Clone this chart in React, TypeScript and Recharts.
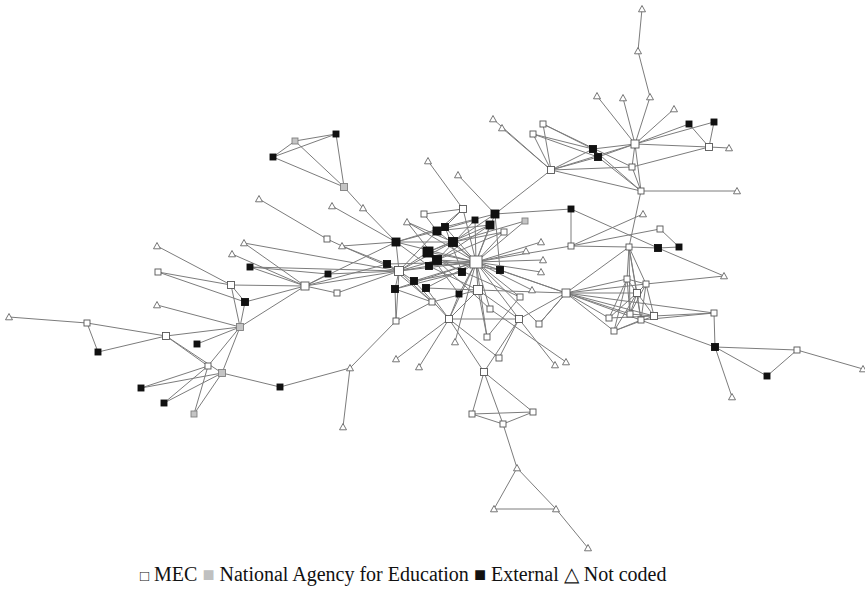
import React from "react";
import { ScatterChart, Scatter, XAxis, YAxis, ReferenceLine } from "recharts";

type Node = [string, number, number, number];

const mecNodes: Node[] = [
  ["M1", 476, 262, 12], ["M2", 399, 271, 9], ["M3", 478, 290, 9], ["M4", 305, 286, 8],
  ["M5", 566, 293, 8], ["M6", 635, 144, 8], ["M7", 551, 170, 7], ["M8", 463, 209, 7],
  ["M9", 424, 214, 6], ["M10", 504, 232, 6], ["M11", 432, 302, 6], ["M12", 520, 297, 6],
  ["M13", 490, 309, 6], ["M14", 396, 321, 6], ["M15", 449, 319, 7], ["M16", 519, 319, 7],
  ["M17", 539, 324, 6], ["M18", 487, 337, 6], ["M19", 499, 358, 6], ["M20", 484, 372, 7],
  ["M21", 472, 414, 6], ["M22", 533, 412, 6], ["M23", 503, 424, 6], ["M24", 327, 239, 6],
  ["M25", 337, 293, 6], ["M26", 231, 285, 7], ["M27", 158, 272, 6], ["M28", 87, 323, 6],
  ["M29", 166, 336, 7], ["M30", 208, 366, 6], ["M31", 543, 124, 6], ["M32", 533, 134, 6],
  ["M33", 709, 147, 7], ["M34", 632, 167, 6], ["M35", 641, 191, 6], ["M36", 571, 246, 6],
  ["M37", 629, 247, 6], ["M38", 660, 229, 6], ["M39", 627, 279, 6], ["M40", 646, 284, 6],
  ["M41", 637, 293, 7], ["M42", 609, 318, 6], ["M43", 630, 314, 6], ["M44", 641, 320, 6],
  ["M45", 654, 316, 7], ["M46", 614, 331, 6], ["M47", 714, 313, 6], ["M48", 797, 350, 6],
];

const agencyNodes: Node[] = [
  ["N1", 295, 141, 6], ["N2", 344, 187, 7], ["N3", 240, 327, 7], ["N4", 222, 373, 7],
  ["N5", 194, 414, 6], ["N6", 525, 221, 6],
];

const externalNodes: Node[] = [
  ["E1", 336, 134, 6], ["E2", 273, 157, 6], ["E3", 396, 242, 8], ["E4", 387, 264, 7],
  ["E5", 395, 289, 7], ["E6", 250, 267, 6], ["E7", 328, 274, 6], ["E8", 245, 302, 7],
  ["E9", 197, 344, 6], ["E10", 98, 352, 6], ["E11", 141, 388, 6], ["E12", 164, 403, 6],
  ["E13", 280, 387, 6], ["E14", 495, 214, 8], ["E15", 475, 220, 6], ["E16", 490, 225, 8],
  ["E17", 437, 231, 8], ["E18", 445, 227, 7], ["E19", 453, 242, 9], ["E20", 428, 252, 10],
  ["E21", 437, 260, 9], ["E22", 429, 266, 7], ["E23", 462, 272, 7], ["E24", 500, 270, 7],
  ["E25", 414, 281, 7], ["E26", 426, 288, 7], ["E27", 459, 294, 6], ["E28", 571, 209, 6],
  ["E29", 593, 149, 7], ["E30", 598, 157, 7], ["E31", 689, 124, 6], ["E32", 714, 122, 6],
  ["E33", 658, 248, 7], ["E34", 679, 247, 6], ["E35", 715, 347, 7], ["E36", 767, 376, 6],
];

const uncodedNodes: Node[] = [
  ["T1", 642, 9, 7], ["T2", 638, 51, 7], ["T3", 650, 97, 7], ["T4", 597, 96, 7],
  ["T5", 623, 98, 7], ["T6", 674, 109, 7], ["T7", 729, 148, 7], ["T8", 493, 119, 7],
  ["T9", 502, 128, 7], ["T10", 737, 191, 7], ["T11", 643, 214, 7], ["T12", 541, 242, 7],
  ["T13", 526, 251, 7], ["T14", 543, 260, 7], ["T15", 541, 272, 7], ["T16", 532, 290, 7],
  ["T17", 724, 276, 7], ["T18", 863, 369, 7], ["T19", 732, 397, 7], ["T20", 455, 342, 7],
  ["T21", 396, 359, 7], ["T22", 419, 367, 7], ["T23", 555, 365, 7], ["T24", 566, 362, 7],
  ["T25", 517, 468, 7], ["T26", 494, 509, 7], ["T27", 556, 509, 7], ["T28", 588, 548, 7],
  ["T29", 350, 368, 7], ["T30", 343, 427, 7], ["T31", 9, 317, 7], ["T32", 157, 305, 7],
  ["T33", 157, 246, 7], ["T34", 244, 243, 7], ["T35", 232, 254, 7], ["T36", 259, 199, 7],
  ["T37", 332, 206, 7], ["T38", 363, 208, 7], ["T39", 342, 246, 7], ["T40", 407, 222, 7],
  ["T41", 428, 161, 7], ["T42", 458, 175, 7],
];

const edgeList: string[] = [
  // top right
  "T1-T2", "T2-T3", "T3-M6", "T4-M6", "T5-M6", "T6-M6", "E31-M6", "E32-M6", "E31-M33", "E32-M33",
  "M6-M33", "M33-T7", "M6-M34", "M6-M35", "M34-M33", "M6-E29", "M6-E30", "M6-M7", "T8-M7", "T9-M7",
  "M31-M7", "M32-M7", "M31-E29", "M32-E30", "M31-M34", "M32-E29", "E29-M35", "E30-M35", "M7-E29",
  "M7-E30", "M7-M34", "M7-M35", "M35-T10", "M7-E14", "M35-M37", "E29-E30", "M34-M35",
  // right middle
  "E28-M36", "E28-E33", "E28-E14", "T11-M36", "M36-M37", "M37-E33", "E33-E34", "M38-E34", "M38-M36",
  "E33-T17", "M37-M5", "M37-M39", "M37-M40", "M37-M41", "M37-M43", "M37-M44", "M36-M1",
  "M5-M39", "M5-M40", "M5-M41", "M5-M42", "M5-M43", "M5-M45", "M5-M46", "M5-M47", "M5-E35", "M5-M17",
  "M40-T17", "M39-M41", "M40-M41", "M39-M42", "M39-M46", "M41-M42", "M41-M43", "M41-M44", "M41-M45",
  "M41-M46", "M40-M45", "M40-M44", "M42-M45", "M43-M45", "M46-M44", "M46-M45", "M39-M43", "M40-M43",
  "M39-M40", "M47-M45", "M47-M44", "M47-E35", "E35-M48", "E35-E36", "E36-M48", "M48-T18", "E35-T19",
  // central hub
  "M1-M8", "M1-E14", "M1-E15", "M1-E16", "M1-M10", "M1-E17", "M1-E18", "M1-E19", "M1-E20", "M1-E21",
  "M1-E22", "M1-M2", "M1-E4", "M1-E3", "M1-E23", "M1-E24", "M1-E25", "M1-E26", "M1-E5", "M1-M3",
  "M1-E27", "M1-T12", "M1-T13", "M1-T14", "M1-T15", "M1-T16", "M1-M5", "M1-M12", "M1-M13", "M1-M16",
  "M1-M15", "M1-M18", "M1-T20", "M1-M17", "M1-N6", "M1-T40",
  "M2-E3", "M2-E4", "M2-E5", "M2-E25", "M2-E20", "M2-E21", "M2-E22", "M2-E19", "M2-E17", "M2-T39",
  "M2-M4", "M2-E7", "M2-M25", "M2-M14", "M2-M11",
  "E3-E17", "E3-E18", "E3-E19", "E3-E22", "E20-E19", "E20-E23", "E21-E24", "E22-M3", "E17-E16",
  "E18-E14", "E19-M10", "E25-E23", "E26-M3", "E5-E23", "E27-E20", "M8-E17", "M8-E18", "M9-M8",
  "M9-E17", "T40-E19", "T40-E21", "E15-E17", "E16-E20", "M10-E21", "N6-E19", "E24-M5", "M3-M5",
  "M3-M15", "M3-M16", "M3-M11", "M11-E4", "M11-E5", "E25-M15", "E26-M15", "E27-M15", "M12-E21",
  "M13-E20", "T41-M8", "T42-E14", "E14-E19", "E15-E21", "E16-E22", "E14-E24", "E18-E23",
  // lower centre
  "M14-E5", "M14-M11", "M14-T29", "M15-T21", "M15-T22", "M15-M16", "M15-M19", "M15-M20", "M18-M3",
  "M18-M12", "M16-M5", "M16-M19", "M16-M20", "M16-T23", "M13-T24", "M17-M5", "M20-M21", "M20-M23",
  "M20-M22", "M21-M22", "M21-M23", "M23-M22", "M23-T25", "T25-T26", "T25-T27", "T26-T27", "T27-T28",
  // left
  "N1-E1", "E2-N1", "E2-E1", "E2-N2", "N1-N2", "E1-N2", "N2-T38", "T38-E3", "T36-M24", "M24-T39",
  "T39-E4", "T39-E3", "T37-E3", "M4-T34", "M4-T35", "M4-E6", "M4-E7", "M4-M25", "M4-M26", "M4-E8",
  "M4-N3", "E6-M2", "E7-E6", "T33-M26", "M27-M26", "M27-E8", "M26-E8", "T32-N3", "T31-M28",
  "M28-M29", "M28-E10", "E10-M29", "M29-N3", "E9-N3", "M29-M30", "M29-N4", "N3-M30", "N3-N4", "N3-E8",
  "N3-M26", "M30-E11", "N4-E11", "M30-E12", "N4-E12", "M30-N5", "N4-N5", "N4-E13", "E13-T29",
  "T29-T30", "M4-E4", "T34-M2", "M4-E3",
];

const toPoints = (list: Node[], kind: string) =>
  list.map(([id, x, y, s]) => ({ id, x, y, s, kind }));

const allNodes = [
  ...toPoints(mecNodes, "mec"),
  ...toPoints(agencyNodes, "agency"),
  ...toPoints(externalNodes, "external"),
  ...toPoints(uncodedNodes, "uncoded"),
];
const nodeIndex: Record<string, { x: number; y: number }> = {};
allNodes.forEach((n) => (nodeIndex[n.id] = { x: n.x, y: n.y }));

const NodeShape = (props: any) => {
  const { cx, cy, payload } = props;
  if (cx == null || cy == null) return null;
  const s = payload.s;
  const h = s / 2;
  if (payload.kind === "uncoded") {
    const pts = `${cx},${cy - h} ${cx - h},${cy + h * 0.8} ${cx + h},${cy + h * 0.8}`;
    return <polygon points={pts} fill="#fff" stroke="#666" strokeWidth={0.9} />;
  }
  const fill = payload.kind === "mec" ? "#fff" : payload.kind === "agency" ? "#c4c4c4" : "#111";
  const stroke = payload.kind === "mec" ? "#555" : payload.kind === "agency" ? "#808080" : "#111";
  return <rect x={cx - h} y={cy - h} width={s} height={s} fill={fill} stroke={stroke} strokeWidth={0.9} />;
};

export default function App() {
  return (
    <div style={{ position: "absolute", left: 0, top: 0, width: 865, height: 596, background: "#fff" }}>
      <ScatterChart width={865} height={596} margin={{ top: 0, right: 0, bottom: 0, left: 0 }}>
        <XAxis type="number" dataKey="x" domain={[0, 865]} hide allowDataOverflow />
        <YAxis type="number" dataKey="y" domain={[0, 596]} reversed hide allowDataOverflow />
        {edgeList.map((e, i) => {
          const [a, b] = e.split("-");
          const p = nodeIndex[a];
          const q = nodeIndex[b];
          if (!p || !q) return null;
          return (
            <ReferenceLine
              key={"e" + i}
              segment={[{ x: p.x, y: p.y }, { x: q.x, y: q.y }]}
              stroke="#7c7c7c"
              strokeWidth={1}
              ifOverflow="visible"
            />
          );
        })}
        <Scatter data={toPoints(uncodedNodes, "uncoded")} shape={NodeShape} isAnimationActive={false} />
        <Scatter data={toPoints(mecNodes, "mec")} shape={NodeShape} isAnimationActive={false} />
        <Scatter data={toPoints(agencyNodes, "agency")} shape={NodeShape} isAnimationActive={false} />
        <Scatter data={toPoints(externalNodes, "external")} shape={NodeShape} isAnimationActive={false} />
      </ScatterChart>
      <div
        style={{
          position: "absolute",
          left: 140,
          top: 562,
          fontFamily: "'Liberation Serif', 'Times New Roman', serif",
          fontSize: 20,
          color: "#111",
          whiteSpace: "nowrap",
        }}
      >
        <span style={{ fontSize: 15 }}>□</span> MEC <span style={{ color: "#c0c0c0" }}>■</span> National Agency for Education <span>■</span> External <span>△</span> Not coded
      </div>
    </div>
  );
}
